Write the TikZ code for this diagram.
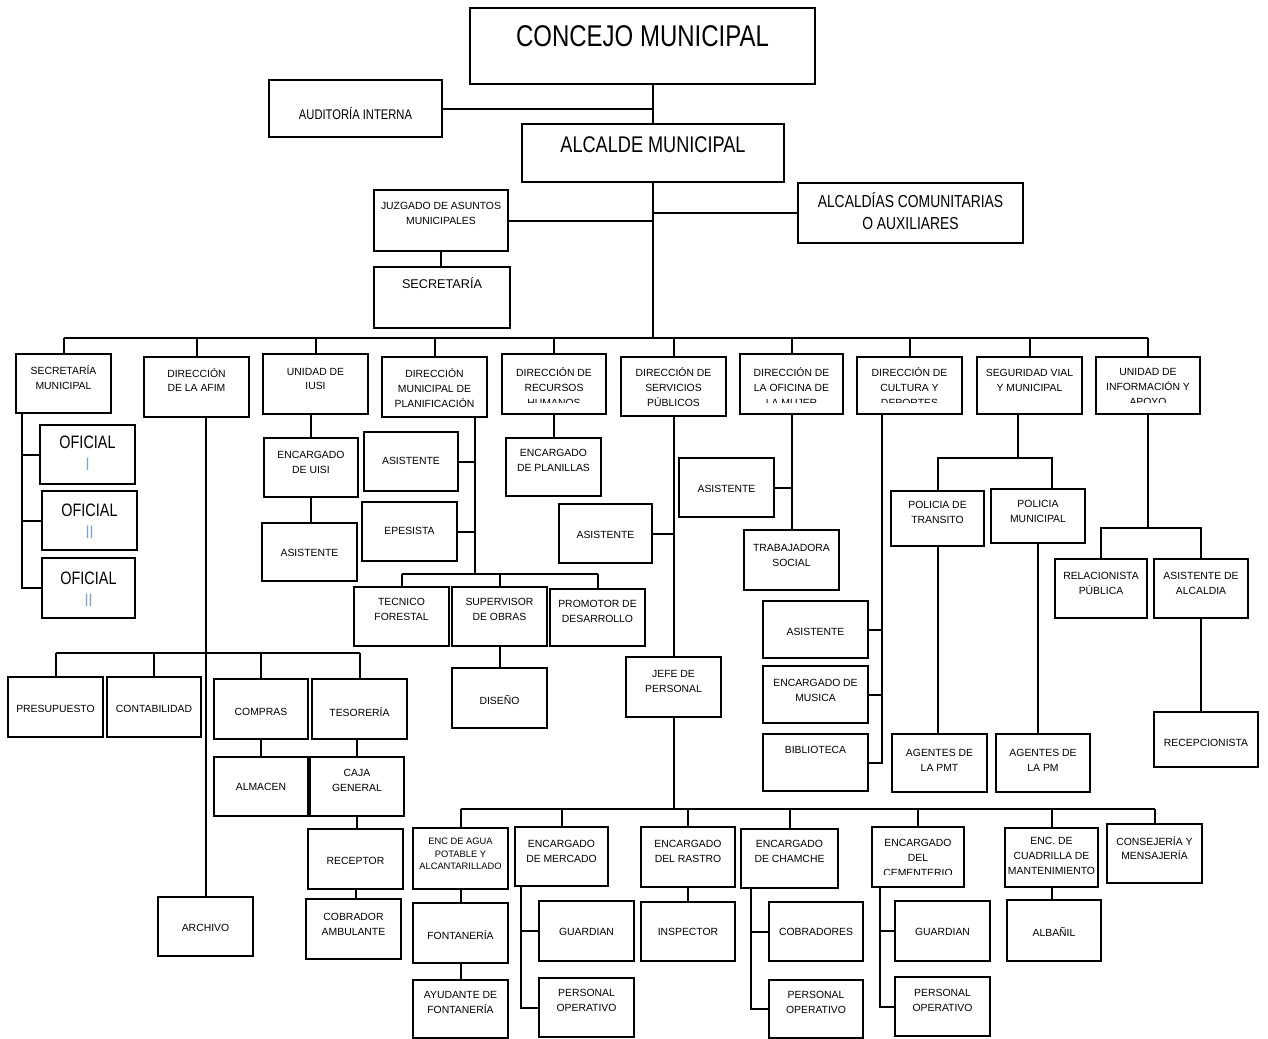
\documentclass[tikz,border=0pt]{standalone}
\usepackage{fontspec}
\setmainfont{Liberation Sans}
\newfontfamily\estrecha[FakeStretch=0.8]{Liberation Sans}
\usetikzlibrary{fit}
\definecolor{numeral}{RGB}{120,160,205}

\newcommand{\letraconcejo}{\estrecha\fontsize{22.5}{27}\selectfont}
\newcommand{\letraalcalde}{\estrecha\fontsize{17}{20}\selectfont}
\newcommand{\letraalcaldias}{\estrecha\fontsize{13}{16.5}\selectfont}
\newcommand{\letraauditoria}{\estrecha\fontsize{10.5}{12}\selectfont}
\newcommand{\letrasecre}{\fontsize{9.5}{11}\selectfont}
\newcommand{\letraoficial}{\estrecha\fontsize{13.5}{16.5}\selectfont}
\newcommand{\letrachica}{\fontsize{7}{9.5}\selectfont}

\tikzset{
  caja/.style={draw, line width=1.5pt, inner sep=0pt},
  rotulo/.style={align=center, inner sep=0pt, font=\fontsize{7.8}{11.2}\selectfont},
  enlace/.style={line width=1.5pt}
}

% [opciones] nombre x1 y1 x2 y2 y-texto texto
\newcommand{\unidad}[8][]{%
  \node[caja, fit={(#3,#4) (#5,#6)}] (#2) {};
  \node[rotulo, #1] (#2-r) at ({(#3+#5)/2},#7) {#8};}
% nombre x1 y1 x2 y2 y-recorte y-texto texto
\newcommand{\unidadcorta}[8]{%
  \node[caja, fit={(#2,#3) (#4,#5)}] (#1) {};
  \begin{scope}
    \clip (#2,#3) rectangle (#4,#6);
    \node[rotulo] (#1-r) at ({(#2+#4)/2},#7) {#8};
  \end{scope}}

\begin{document}
\begin{tikzpicture}[x=0.75pt, y=-0.75pt]
\useasboundingbox (0,0) rectangle (1268,1039);

\unidad[font=\letraconcejo]{concejo}{470}{8}{815}{84}{36}{CONCEJO MUNICIPAL}
\unidad[font=\letraauditoria]{auditoria}{269}{80}{442}{137}{113}{AUDITORÍA INTERNA}
\unidad[font=\letraalcalde]{alcalde}{522}{124}{784}{182}{145}{ALCALDE MUNICIPAL}
\unidad{juzgado}{374}{190}{508}{251}{213}{JUZGADO DE ASUNTOS\\MUNICIPALES}
\unidad[font=\letrasecre]{secjuz}{374}{267}{510}{328}{283}{SECRETARÍA}
\unidad[font=\letraalcaldias]{alcaldias}{798}{183}{1023}{243}{211}{ALCALDÍAS COMUNITARIAS\\O AUXILIARES}

\unidad{secmun}{16}{354}{111}{413}{378}{SECRETARÍA\\MUNICIPAL}
\unidad{afim}{144}{357}{249}{417}{380}{DIRECCIÓN\\DE LA AFIM}
\unidad{iusi}{263}{354}{368}{414}{379}{UNIDAD DE\\IUSI}
\unidad{dmp}{382}{357}{487}{417}{388}{DIRECCIÓN\\MUNICIPAL DE\\PLANIFICACIÓN}
\unidadcorta{rrhh}{502}{354}{606}{414}{402}{387}{DIRECCIÓN DE\\RECURSOS\\HUMANOS}
\unidad{dsp}{621}{357}{726}{416}{387}{DIRECCIÓN DE\\SERVICIOS\\PÚBLICOS}
\unidadcorta{mujer}{740}{354}{843}{414}{402}{387}{DIRECCIÓN DE\\LA OFICINA DE\\LA MUJER}
\unidadcorta{cultura}{857}{357}{962}{414}{402}{387}{DIRECCIÓN DE\\CULTURA Y\\DEPORTES}
\unidad{seguridad}{977}{357}{1082}{414}{380}{SEGURIDAD VIAL\\Y MUNICIPAL}
\unidadcorta{infor}{1096}{357}{1200}{414}{402}{387}{UNIDAD DE\\INFORMACIÓN Y\\APOYO}

\unidad[font=\letraoficial]{ofi}{40}{425}{135}{484}{453}{OFICIAL\\\textcolor{numeral}{I}}
\unidad[font=\letraoficial]{ofii}{42}{491}{137}{550}{521}{OFICIAL\\\textcolor{numeral}{II}}
\unidad[font=\letraoficial]{ofiii}{42}{558}{135}{618}{589}{OFICIAL\\\textcolor{numeral}{II}}

\unidad{presup}{8}{677}{103}{737}{709}{PRESUPUESTO}
\unidad{conta}{107}{677}{201}{737}{709}{CONTABILIDAD}
\unidad{compras}{214}{679}{308}{739}{712}{COMPRAS}
\unidad{tesor}{312}{679}{407}{739}{712}{TESORERÍA}
\unidad{almacen}{214}{757}{308}{816}{787}{ALMACEN}
\unidad{caja}{310}{757}{404}{816}{780}{CAJA\\GENERAL}
\unidad{receptor}{308}{829}{403}{889}{861}{RECEPTOR}
\unidad{cobrador}{306}{899}{401}{959}{924}{COBRADOR\\AMBULANTE}
\unidad{archivo}{158}{897}{253}{956}{928}{ARCHIVO}

\unidad{enciusi}{264}{438}{358}{497}{462}{ENCARGADO\\DE UISI}
\unidad{asisiusi}{262}{523}{357}{581}{553}{ASISTENTE}

\unidad{asisdmp}{364}{432}{458}{491}{461}{ASISTENTE}
\unidad{epesista}{362}{502}{457}{561}{531}{EPESISTA}
\unidad{tecfor}{354}{587}{449}{646}{609}{TECNICO\\FORESTAL}
\unidad{supobras}{452}{587}{547}{646}{609}{SUPERVISOR\\DE OBRAS}
\unidad{promotor}{550}{589}{645}{646}{611}{PROMOTOR DE\\DESARROLLO}
\unidad{diseno}{452}{668}{547}{728}{700}{DISEÑO}

\unidad{encplan}{506}{438}{601}{496}{460}{ENCARGADO\\DE PLANILLAS}

\unidad{asisdsp}{559}{504}{652}{563}{535}{ASISTENTE}
\unidad{jefe}{626}{657}{721}{717}{681}{JEFE DE\\PERSONAL}

\unidad{asismujer}{679}{458}{774}{517}{489}{ASISTENTE}
\unidad{trabsoc}{744}{530}{839}{590}{555}{TRABAJADORA\\SOCIAL}

\unidad{asiscult}{763}{601}{868}{658}{632}{ASISTENTE}
\unidad{encmusica}{763}{666}{868}{723}{690}{ENCARGADO DE\\MUSICA}
\unidad{biblio}{763}{734}{868}{791}{750}{BIBLIOTECA}

\unidad{poltran}{891}{491}{984}{546}{512}{POLICIA DE\\TRANSITO}
\unidad{polmun}{991}{489}{1085}{543}{511}{POLICIA\\MUNICIPAL}
\unidad{agpmt}{892}{734}{987}{792}{760}{AGENTES DE\\LA PMT}
\unidad{agpm}{996}{734}{1090}{792}{760}{AGENTES DE\\LA PM}

\unidad{relac}{1055}{559}{1147}{618}{583}{RELACIONISTA\\PÚBLICA}
\unidad{asisalc}{1154}{559}{1248}{618}{583}{ASISTENTE DE\\ALCALDIA}
\unidad{recep}{1154}{712}{1258}{767}{743}{RECEPCIONISTA}

\unidad[font=\letrachica]{encagua}{413}{828}{508}{889}{854}{ENC DE AGUA\\POTABLE Y\\ALCANTARILLADO}
\unidad{fontaneria}{413}{903}{508}{963}{935}{FONTANERÍA}
\unidad{ayudante}{413}{980}{508}{1038}{1002}{AYUDANTE DE\\FONTANERÍA}
\unidad{mercado}{515}{827}{608}{886}{851}{ENCARGADO\\DE MERCADO}
\unidad{guardmerc}{539}{901}{634}{961}{932}{GUARDIAN}
\unidad{persmerc}{539}{978}{634}{1037}{1000}{PERSONAL\\OPERATIVO}
\unidad{rastro}{641}{827}{735}{887}{851}{ENCARGADO\\DEL RASTRO}
\unidad{inspector}{641}{902}{735}{961}{932}{INSPECTOR}
\unidad{chamche}{741}{829}{838}{888}{851}{ENCARGADO\\DE CHAMCHE}
\unidad{cobradores}{769}{902}{863}{961}{932}{COBRADORES}
\unidad{perscham}{769}{980}{863}{1038}{1002}{PERSONAL\\OPERATIVO}
\unidadcorta{cementerio}{872}{827}{964}{887}{874}{858}{ENCARGADO\\DEL\\CEMENTERIO}
\unidad{guardcem}{895}{901}{990}{961}{932}{GUARDIAN}
\unidad{perscem}{895}{977}{990}{1036}{1000}{PERSONAL\\OPERATIVO}
\unidad{cuadrilla}{1005}{828}{1098}{887}{856}{ENC. DE\\CUADRILLA DE\\MANTENIMIENTO}
\unidad{albanil}{1007}{900}{1101}{961}{932}{ALBAÑIL}
\unidad{consejeria}{1107}{824}{1202}{883}{848}{CONSEJERÍA Y\\MENSAJERÍA}

\draw[enlace] (concejo.south -| alcalde.north) -- (alcalde.north);
\draw[enlace] (auditoria.east) -- (auditoria.east -| alcalde.north);
\coordinate (bus) at (652,338);
\draw[enlace] (alcalde.south) -- (alcalde.south |- bus);
\draw[enlace] (juzgado.east) -- (juzgado.east -| alcalde.south);
\draw[enlace] (alcaldias.west) -- (alcaldias.west -| alcalde.south);
\draw[enlace] (juzgado.south) -- (juzgado.south |- secjuz.north);
\draw[enlace] (secmun.north |- bus) -- (infor.north |- bus);
\foreach \u in {secmun,afim,iusi,dmp,rrhh,dsp,mujer,cultura,seguridad,infor}
  \draw[enlace] (\u.north |- bus) -- (\u.north);

\coordinate (smv) at (22,413);
\draw[enlace] (smv) |- (ofiii.west);
\foreach \u in {ofi,ofii}
  \draw[enlace] (\u.west) -- (\u.west -| smv);

\draw[enlace] (afim.south -| archivo.north) -- (archivo.north);
\coordinate (afimbus) at (204,653);
\draw[enlace] (presup.north |- afimbus) -- (tesor.north |- afimbus);
\foreach \u in {presup,conta,compras,tesor}
  \draw[enlace] (\u.north |- afimbus) -- (\u.north);
\draw[enlace] (compras.south) -- (almacen.north);
\draw[enlace] (caja.north |- tesor.south) -- (caja.north);
\draw[enlace] (caja.south) -- (caja.south |- receptor.north);
\draw[enlace] (receptor.south) -- (receptor.south |- cobrador.north);

\draw[enlace] (iusi.south -| enciusi.north) -- (enciusi.north);
\draw[enlace] (enciusi.south) -- (enciusi.south |- asisiusi.north);

\coordinate (dmpbus) at (475,574);
\draw[enlace] (dmp.south -| dmpbus) -- (dmpbus);
\draw[enlace] (asisdmp.east) -- (asisdmp.east -| dmpbus);
\draw[enlace] (epesista.east) -- (epesista.east -| dmpbus);
\draw[enlace] (tecfor.north |- dmpbus) -- (promotor.north |- dmpbus);
\foreach \u in {tecfor,supobras,promotor}
  \draw[enlace] (\u.north |- dmpbus) -- (\u.north);
\draw[enlace] (supobras.south) -- (diseno.north);

\draw[enlace] (rrhh.south -| encplan.north) -- (encplan.north);

\coordinate (busb) at (672,809);
\draw[enlace] (dsp.south -| jefe.north) -- (jefe.north);
\draw[enlace] (asisdsp.east) -- (asisdsp.east -| jefe.north);
\draw[enlace] (jefe.south) -- (jefe.south |- busb);
\draw[enlace] (encagua.north |- busb) -- (consejeria.north |- busb);
\foreach \u in {encagua,mercado,rastro,chamche,cementerio,cuadrilla,consejeria}
  \draw[enlace] (\u.north |- busb) -- (\u.north);
\draw[enlace] (encagua.south) -- (fontaneria.north);
\draw[enlace] (fontaneria.south) -- (ayudante.north);
\coordinate (mercv) at (521,886);
\draw[enlace] (mercv) |- (persmerc.west);
\draw[enlace] (guardmerc.west) -- (guardmerc.west -| mercv);
\draw[enlace] (rastro.south) -- (rastro.south |- inspector.north);
\coordinate (chamv) at (751,888);
\draw[enlace] (chamv) |- (perscham.west);
\draw[enlace] (cobradores.west) -- (cobradores.west -| chamv);
\coordinate (cemv) at (880,887);
\draw[enlace] (cemv) |- (perscem.west);
\draw[enlace] (guardcem.west) -- (guardcem.west -| cemv);
\draw[enlace] (cuadrilla.south) -- (cuadrilla.south |- albanil.north);

\draw[enlace] (mujer.south) -- (mujer.south |- trabsoc.north);
\draw[enlace] (asismujer.east) -- (asismujer.east -| mujer.south);

\coordinate (cultv) at (882,414);
\draw[enlace] (cultv) |- (biblio.east);
\foreach \u in {asiscult,encmusica}
  \draw[enlace] (\u.east) -- (\u.east -| cultv);

\coordinate (segbus) at (1018,458);
\coordinate (segder) at (1052,458);
\draw[enlace] (seguridad.south -| segbus) -- (segbus);
\draw[enlace] (poltran.north) |- (segder) -- (segder |- polmun.north);
\draw[enlace] (poltran.south) -- (poltran.south |- agpmt.north);
\draw[enlace] (polmun.south) -- (polmun.south |- agpm.north);

\coordinate (infbus) at (1148,528);
\draw[enlace] (infor.south -| infbus) -- (infbus);
\draw[enlace] (relac.north) |- (asisalc.north |- infbus) -- (asisalc.north);
\draw[enlace] (asisalc.south) -- (asisalc.south |- recep.north);
\end{tikzpicture}
\end{document}
